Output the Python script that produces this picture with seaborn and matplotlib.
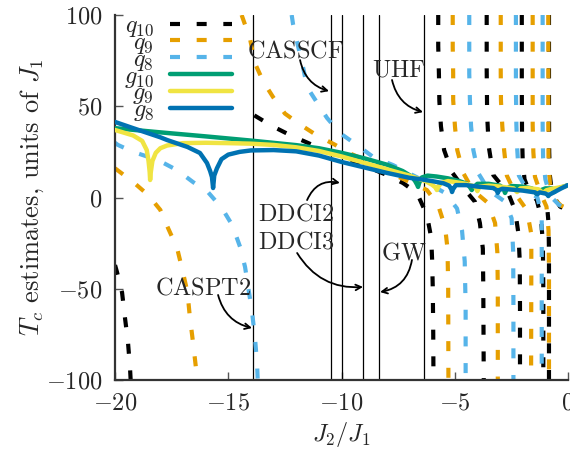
import matplotlib
matplotlib.use("Agg")
import matplotlib.pyplot as plt
import seaborn as sns
from matplotlib.lines import Line2D

# ---- data (x = J2/J1, y = Tc in units of J1) ----
# q_10 (black dashed), one list pair per branch between poles
q10_branches = [
    ([-20, -19.91, -19.69, -19.56, -19.43, -19.34, -19.31],
     [-37, -41, -52, -66, -79, -93, -100]),
    ([-13.85, -13.07, -12.27, -11.48, -10.6, -9.7, -8.87, -7.99, -7.28, -6.67, -6.23, -6.04, -6.0, -5.97, -5.95, -5.94],
     [45, 39.2, 34.2, 29.9, 25, 20.7, 16.8, 12.3, 7.9, 2.5, -9.6, -22, -34, -50, -75, -100]),
    ([-5.73, -5.73, -5.70, -5.68, -5.61, -5.47, -5.13, -4.6, -4.11, -3.89, -3.76, -3.74, -3.73, -3.72],
     [100, 83, 68, 53, 39, 26, 14, 5, -2.3, -14, -28, -50, -75, -100]),
    ([-3.59, -3.59, -3.57, -3.5, -3.3, -2.64, -2.34, -2.19, -2.13, -2.12, -2.12],
     [100, 70, 45, 28, 12.3, 2.3, -6.8, -19.6, -35, -60, -100]),
    ([-2.04, -2.04, -2.03, -2.0, -1.92, -1.7, -1.38, -1.2, -1.11, -1.09, -1.09],
     [100, 60, 35, 20, 10, 3, -1.4, -10, -25, -50, -100]),
    ([-0.84, -0.84, -0.83, -0.8, -0.7, -0.35, 0],
     [100, 50, 25, 12, 2, -5, -7]),
    ([-0.84, -0.84, -0.86, -0.9],
     [-100, -30, -14, -8]),
]

# q_9 (orange dashed)
q9_branches = [
    ([-20, -19.2, -18.54, -18.0, -17.66, -17.26, -17.04, -16.8, -16.7, -16.56, -16.43, -16.38],
     [16, 8.5, 1.4, -6.8, -16.7, -27.7, -39, -52, -65, -79, -93, -100]),
    ([-14.41, -14.04, -13.82, -13.45, -13.02, -12.5, -11.83, -11.08, -10.3, -9.6, -8.65, -7.86, -6.98, -6.23, -5.74, -5.43, -5.32, -5.29, -5.28],
     [100, 87, 73.5, 63.4, 55, 46, 40, 34, 29, 24, 19, 13.4, 8.5, 4.1, -4, -16, -28, -50, -100]),
    ([-5.09, -5.09, -5.07, -5.07, -4.99, -4.89, -4.62, -4.2, -3.53, -3.22, -3.12, -3.1, -3.1],
     [100, 82.6, 68, 53.4, 38.8, 26, 13.3, 4, -3, -14, -30, -50, -100]),
    ([-2.97, -2.97, -2.96, -2.9, -2.82, -2.7, -2.3, -1.82, -1.62, -1.62, -1.63],
     [100, 68, 53, 39, 26, 12, 1.5, -6.8, -20, -40, -100]),
    ([-1.56, -1.56, -1.53, -1.46, -1.2, -0.95, -0.86, -0.84, -0.84],
     [100, 40, 25, 11.4, 2, -5, -18, -40, -100]),
    ([-0.87, -0.87, -0.86, -0.8, -0.6, -0.3, 0],
     [100, 40, 20, 8, -1, -4.5, -6]),
]

# q_8 (light blue dashed)
q8_branches = [
    ([-20, -19.87, -19.2, -18.1, -17.26, -16.56, -15.9, -15.28, -14.83, -14.48, -14.26, -13.95, -13.82, -13.73, -13.7],
     [30, 28.8, 25, 20.5, 15, 8.5, 3, -5.8, -15, -27, -38, -62.7, -77, -90.7, -100]),
    ([-12.2, -12.14, -11.9, -11.7, -11.52, -11.08, -10.64, -10.07, -9.32, -8.6, -7.73, -6.5, -5.43, -4.9, -4.68, -4.56, -4.52, -4.52],
     [100, 95, 82, 71.5, 60.5, 52, 43.6, 35.3, 28.8, 22.2, 17.8, 10, 2.5, -6, -18, -35, -60, -100]),
    ([-4.36, -4.36, -4.33, -4.28, -4.18, -3.96, -3.5, -2.78, -2.49, -2.42, -2.41, -2.41],
     [100, 68, 53, 39, 26, 13.3, 4, -2.3, -11.4, -30, -60, -100]),
    ([-2.30, -2.30, -2.28, -2.24, -2.17, -1.8, -1.35, -1.16, -1.16, -1.16],
     [100, 60, 40, 26, 12, 4, 0, -10, -40, -100]),
    ([-1.12, -1.12, -1.1, -1.0, -0.8, -0.4, 0],
     [100, 40, 22, 10, 1, -4, -6.5]),
]

# g_10 (green), g_9 (yellow), g_8 (blue) solid curves
g10_x = [-20, -18, -16, -14, -12, -11, -10, -9, -8, -7.3, -6.9, -6.75, -6.66, -6.62, -6.57, -6.45, -6.2, -5.8,
         -5.3, -4.8, -4.45, -4.32, -4.25, -4.18, -4.0, -3.5, -3.0, -2.85, -2.78, -2.7, -2.5, -2.0, -1.6, -1.47,
         -1.4, -1.3, -1.0, -0.7, -0.6, -0.5, -0.3, 0]
g10_y = [38, 35.7, 33.5, 31.2, 28.7, 27, 24.5, 21.5, 18, 14.5, 11.5, 9, 7, 5.8, 8, 11, 12, 11.5,
         10.5, 9, 7.5, 5.5, 4.1, 5.5, 7.5, 7.5, 6.5, 5, 2.5, 5, 6.3, 6, 5, 3.5,
         2, 3.5, 5, 5, 3, 4.5, 5.5, 6.8]

g9_x = [-20, -19.2, -18.8, -18.6, -18.52, -18.47, -18.45, -18.42, -18.35, -18.2, -18, -17.7, -17, -16, -15, -14,
        -13, -12, -11, -10, -9, -8, -7, -6.3, -6.0, -5.85, -5.79, -5.72, -5.6, -5.3, -5, -4.5, -4.1, -4.0, -3.9,
        -3.5, -3, -2.4, -2.25, -2.1, -1.8, -1.3, -1.1, -0.95, -0.7, -0.4, 0]
g9_y = [37, 34, 31, 26, 20, 14, 9.6, 14, 20, 24.5, 27, 28.5, 29.8, 30, 29.8, 29.5,
        28.8, 27.5, 25.5, 22.5, 19, 15.5, 12, 9, 7, 5.5, 4.1, 6, 8, 9, 8.5, 7.5, 6, 3.5, 6,
        6.5, 6, 5, 3, 5, 5.2, 4.5, 2.5, 4, 4.8, 5.5, 6.5]

g8_x = [-20, -19.2, -18, -17.7, -16.8, -16.25, -15.94, -15.8, -15.72, -15.67, -15.62, -15.5, -15.3, -15, -14.5,
        -14, -13, -12, -11, -10, -9, -8, -7, -6.5, -6, -5.5, -5.25, -5.15, -5.12, -5.08, -4.95, -4.5, -4, -3.3,
        -3.15, -3.1, -3.05, -2.9, -2, -1.45, -1.35, -1.25, -1, -0.9, -0.87, -0.83, -0.6, -0.3, 0]
g8_y = [41.4, 38, 33, 31.5, 27.7, 24.4, 18.9, 14.5, 11.2, 5.2, 12, 16, 21, 23.5, 25,
        25.8, 26, 25.3, 23, 19.5, 16.5, 13.5, 10.8, 10, 9, 7.8, 6.5, 4.5, 3, 4.5, 6.8, 6.8, 6, 5.2,
        4, 2.5, 4, 4.8, 3.8, 2.8, 1.8, 2.8, 2.2, 1.5, 0.8, 1.5, 3, 5, 6.8]

# vertical lines for the methods, label text positions and arrow heads / tails
method_x = [-13.9, -10.48, -10.0, -9.04, -8.33, -6.36]
labels = ["CASPT2", "CASSCF", "DDCI2", "DDCI3", "GW", "UHF"]
label_xy = [(-16.09, -49.6), (-12.05, 79.9), (-12.0, -9.0), (-12.0, -24.7), (-7.26, -30.4), (-7.46, 69.9)]
arrow_tail = [(-15.45, -53.4), (-11.83, 75.3), (-11.52, -1.4), (-11.96, -30.4), (-6.89, -34.2), (-7.77, 64.4)]
arrow_head = [(-13.95, -71.5), (-10.55, 58.3), (-10.07, 8.0), (-9.05, -49.0), (-8.3, -51.8), (-6.4, 46.8)]
arrow_rad = [0.3, 0.3, -0.4, 0.3, -0.35, 0.3]

# ---- style ----
sns.set_style("ticks")
plt.rcParams['font.family'] = ['cmr10', 'DejaVu Serif']
plt.rcParams['mathtext.fontset'] = 'cm'
plt.rcParams['axes.formatter.use_mathtext'] = True
fs = 17.5

c_black, c_orange, c_lblue = "#000000", "#E69F00", "#56B4E9"
c_green, c_yellow, c_blue = "#009E73", "#F0E442", "#0072B2"
dash_lw = 3.0
dash_style = (0, (2.4, 4.0))
solid_lw = 3.2

fig = plt.figure(figsize=(5.7, 4.55), dpi=100)
ax = fig.add_axes([0.2018, 0.1648, 0.7947, 0.8022])

for mx in method_x:
    ax.axvline(mx, color="black", lw=0.9, zorder=1)

for branches, col in [(q10_branches, c_black), (q9_branches, c_orange), (q8_branches, c_lblue)]:
    for bx, by in branches:
        sns.lineplot(x=bx, y=by, ax=ax, color=col, lw=dash_lw, linestyle=dash_style,
                     sort=False, estimator=None, legend=False, zorder=2)

for gx, gy, col in [(g10_x, g10_y, c_green), (g9_x, g9_y, c_yellow), (g8_x, g8_y, c_blue)]:
    sns.lineplot(x=gx, y=gy, ax=ax, color=col, lw=solid_lw, sort=False, estimator=None,
                 legend=False, zorder=3)

for txt, (tx, ty), tail, head, rad in zip(labels, label_xy, arrow_tail, arrow_head, arrow_rad):
    ax.text(tx, ty, r"$\mathrm{%s}$" % txt, fontsize=fs, ha="center", va="center", zorder=5)
    ax.annotate("", xy=head, xytext=tail,
                arrowprops=dict(arrowstyle="->", connectionstyle="arc3,rad=%s" % rad,
                                lw=1.3, color="black", shrinkA=0, shrinkB=0), zorder=5)

ax.set_xlim(-20, 0)
ax.set_ylim(-100, 100)
ax.set_xticks([-20, -15, -10, -5, 0])
ax.set_yticks([-100, -50, 0, 50, 100])
ax.tick_params(direction="in", labelsize=fs, length=6, width=1.0, color="#555555", pad=9)
sns.despine(ax=ax)
for s in ["left", "bottom"]:
    ax.spines[s].set_linewidth(1.6)
    ax.spines[s].set_color("#333333")
ax.set_xlabel(r"$J_2/J_1$", fontsize=fs, labelpad=4)
ax.set_ylabel(r"$T_c$ estimates, units of $J_1$", fontsize=19, labelpad=0)

handles = [
    Line2D([], [], color=c_black, lw=dash_lw, linestyle=dash_style),
    Line2D([], [], color=c_orange, lw=dash_lw, linestyle=dash_style),
    Line2D([], [], color=c_lblue, lw=dash_lw, linestyle=dash_style),
    Line2D([], [], color=c_green, lw=solid_lw),
    Line2D([], [], color=c_yellow, lw=solid_lw),
    Line2D([], [], color=c_blue, lw=solid_lw),
]
names = [r"$q_{10}$", r"$q_9$", r"$q_8$", r"$g_{10}$", r"$g_9$", r"$g_8$"]
leg = ax.legend(handles, names, loc="upper left", bbox_to_anchor=(0.02, 1.0), frameon=False,
                markerfirst=False, fontsize=fs, labelspacing=-0.3, handlelength=2.55,
                handletextpad=0.65, borderpad=0, borderaxespad=0)
leg.set_zorder(6)

fig.savefig("out.png", dpi=100)
